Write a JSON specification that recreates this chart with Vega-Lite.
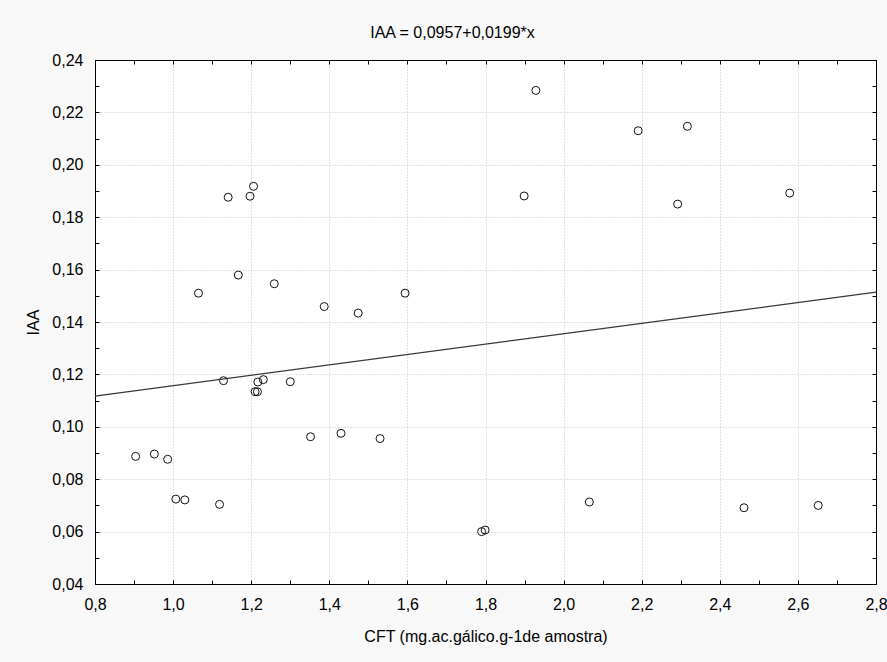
{
  "$schema": "https://vega.github.io/schema/vega-lite/v6.json",
  "width": 781,
  "height": 524,
  "autosize": {"type": "none"},
  "padding": {"left": 95, "top": 60, "right": 11, "bottom": 78},
  "background": "#f8f8f8",
  "view": {"fill": "white", "stroke": null},
  "title": {"text": "IAA = 0,0957+0,0199*x", "font": "Liberation Sans", "fontSize": 16, "fontWeight": "normal", "color": "#000000", "anchor": "middle", "dx": -33, "offset": 11},
  "config": {
    "axis": {"labelFont": "Liberation Sans", "labelFontSize": 16, "labelColor": "#000000", "titleFont": "Liberation Sans", "titleFontSize": 16, "titleFontWeight": "normal", "titleColor": "#000000", "domainColor": "#000000", "domainWidth": 1, "tickColor": "#000000", "tickWidth": 1, "gridColor": "#c4c4c4", "gridDash": [1, 2], "gridWidth": 1}
  },
  "data": {"values": [
    {"CFT": 0.904, "IAA": 0.0887},
    {"CFT": 0.952, "IAA": 0.0896},
    {"CFT": 0.986, "IAA": 0.0876},
    {"CFT": 1.007, "IAA": 0.0724},
    {"CFT": 1.030, "IAA": 0.0721},
    {"CFT": 1.065, "IAA": 0.1510},
    {"CFT": 1.119, "IAA": 0.0704},
    {"CFT": 1.129, "IAA": 0.1176},
    {"CFT": 1.141, "IAA": 0.1876},
    {"CFT": 1.167, "IAA": 0.1579},
    {"CFT": 1.197, "IAA": 0.1880},
    {"CFT": 1.206, "IAA": 0.1918},
    {"CFT": 1.210, "IAA": 0.1134},
    {"CFT": 1.216, "IAA": 0.1134},
    {"CFT": 1.217, "IAA": 0.1171},
    {"CFT": 1.231, "IAA": 0.1180},
    {"CFT": 1.259, "IAA": 0.1546},
    {"CFT": 1.300, "IAA": 0.1172},
    {"CFT": 1.352, "IAA": 0.0962},
    {"CFT": 1.387, "IAA": 0.1459},
    {"CFT": 1.430, "IAA": 0.0975},
    {"CFT": 1.474, "IAA": 0.1434},
    {"CFT": 1.530, "IAA": 0.0955},
    {"CFT": 1.594, "IAA": 0.1510},
    {"CFT": 1.790, "IAA": 0.0600},
    {"CFT": 1.799, "IAA": 0.0606},
    {"CFT": 1.899, "IAA": 0.1881},
    {"CFT": 1.929, "IAA": 0.2284},
    {"CFT": 2.066, "IAA": 0.0713},
    {"CFT": 2.191, "IAA": 0.2130},
    {"CFT": 2.292, "IAA": 0.1850},
    {"CFT": 2.317, "IAA": 0.2147},
    {"CFT": 2.462, "IAA": 0.0691},
    {"CFT": 2.579, "IAA": 0.1892},
    {"CFT": 2.652, "IAA": 0.0700}
  ]},
  "resolve": {"axis": {"x": "independent", "y": "independent"}},
  "layer": [
    {
      "mark": {"type": "point", "shape": "circle", "filled": false, "stroke": "#111111", "strokeWidth": 1, "size": 64, "opacity": 1},
      "encoding": {
        "x": {"field": "CFT", "type": "quantitative", "scale": {"domain": [0.8, 2.8], "nice": false, "zero": false},
          "axis": {"title": "CFT (mg.ac.gálico.g-1de amostra)", "values": [0.8, 0.9, 1.0, 1.1, 1.2, 1.3, 1.4, 1.5, 1.6, 1.7, 1.8, 1.9, 2.0, 2.1, 2.2, 2.3, 2.4, 2.5, 2.6, 2.7, 2.8],
            "labelExpr": "round(datum.value*10)%2==0 ? replace(format(datum.value,'.1f'),'.',',') : ''",
            "gridOpacity": {"condition": {"test": "round(datum.value*10)%2==0", "value": 1}, "value": 0},
            "tickSize": -4, "labelPadding": 16, "titlePadding": 16, "labelFlush": false, "labelOverlap": false}},
        "y": {"field": "IAA", "type": "quantitative", "scale": {"domain": [0.04, 0.24], "nice": false, "zero": false},
          "axis": {"title": "IAA", "values": [0.04, 0.05, 0.06, 0.07, 0.08, 0.09, 0.1, 0.11, 0.12, 0.13, 0.14, 0.15, 0.16, 0.17, 0.18, 0.19, 0.2, 0.21, 0.22, 0.23, 0.24],
            "labelExpr": "round(datum.value*100)%2==0 ? replace(format(datum.value,'.2f'),'.',',') : ''",
            "gridOpacity": {"condition": {"test": "round(datum.value*100)%2==0", "value": 1}, "value": 0},
            "tickSize": -4, "labelPadding": 16, "titlePadding": 10, "labelFlush": false, "labelOverlap": false}}
      }
    },
    {
      "data": {"values": [
        {"CFT": 0.8, "IAA": 0.1117},
        {"CFT": 2.8, "IAA": 0.1514}
      ]},
      "mark": {"type": "line", "color": "#383838", "strokeWidth": 1.2},
      "encoding": {
        "x": {"field": "CFT", "type": "quantitative",
          "axis": {"orient": "top", "title": null, "labels": false, "grid": false, "tickSize": -4, "values": [0.8, 0.9, 1.0, 1.1, 1.2, 1.3, 1.4, 1.5, 1.6, 1.7, 1.8, 1.9, 2.0, 2.1, 2.2, 2.3, 2.4, 2.5, 2.6, 2.7, 2.8]}},
        "y": {"field": "IAA", "type": "quantitative",
          "axis": {"orient": "right", "title": null, "labels": false, "grid": false, "tickSize": -4, "values": [0.04, 0.05, 0.06, 0.07, 0.08, 0.09, 0.1, 0.11, 0.12, 0.13, 0.14, 0.15, 0.16, 0.17, 0.18, 0.19, 0.2, 0.21, 0.22, 0.23, 0.24]}}
      }
    }
  ]
}
